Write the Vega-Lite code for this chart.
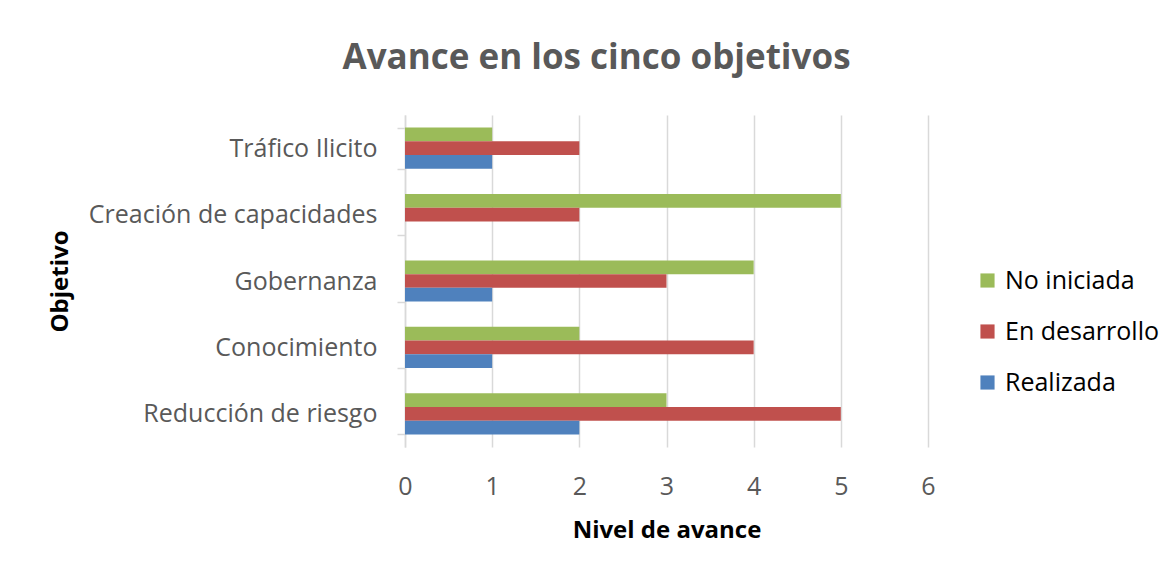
{
  "$schema": "https://vega.github.io/schema/vega-lite/v6.json",
  "autosize": {"type": "none"},
  "width": 523,
  "height": 332,
  "padding": {"left": 405, "top": 115, "right": 244, "bottom": 126},
  "background": "white",
  "config": {
    "font": "Open Sans",
    "view": {"stroke": null}
  },
  "title": {
    "text": "Avance en los cinco objetivos",
    "anchor": "middle",
    "frame": "group",
    "dx": -70,
    "offset": 27,
    "fontSize": 35,
    "fontWeight": "bold",
    "color": "#595959",
    "font": "Open Sans"
  },
  "data": {
    "values": [
      {"objetivo": "Tráfico Ilicito", "estado": "No iniciada", "valor": 1},
      {"objetivo": "Tráfico Ilicito", "estado": "En desarrollo", "valor": 2},
      {"objetivo": "Tráfico Ilicito", "estado": "Realizada", "valor": 1},
      {"objetivo": "Creación de capacidades", "estado": "No iniciada", "valor": 5},
      {"objetivo": "Creación de capacidades", "estado": "En desarrollo", "valor": 2},
      {"objetivo": "Creación de capacidades", "estado": "Realizada", "valor": 0},
      {"objetivo": "Gobernanza", "estado": "No iniciada", "valor": 4},
      {"objetivo": "Gobernanza", "estado": "En desarrollo", "valor": 3},
      {"objetivo": "Gobernanza", "estado": "Realizada", "valor": 1},
      {"objetivo": "Conocimiento", "estado": "No iniciada", "valor": 2},
      {"objetivo": "Conocimiento", "estado": "En desarrollo", "valor": 4},
      {"objetivo": "Conocimiento", "estado": "Realizada", "valor": 1},
      {"objetivo": "Reducción de riesgo", "estado": "No iniciada", "valor": 3},
      {"objetivo": "Reducción de riesgo", "estado": "En desarrollo", "valor": 5},
      {"objetivo": "Reducción de riesgo", "estado": "Realizada", "valor": 2}
    ]
  },
  "mark": {"type": "bar"},
  "encoding": {
    "y": {
      "field": "objetivo",
      "type": "nominal",
      "sort": ["Tráfico Ilicito", "Creación de capacidades", "Gobernanza", "Conocimiento", "Reducción de riesgo"],
      "scale": {"paddingInner": 0.38, "paddingOuter": 0.19},
      "axis": {
        "title": "Objetivo",
        "titleFontSize": 24,
        "titleFontWeight": "bold",
        "titleColor": "#000000",
        "titleX": -345,
        "titleY": 166,
        "titleAngle": -90,
        "titleAlign": "center",
        "titleBaseline": "middle",
        "labelFontSize": 25,
        "labelColor": "#595959",
        "labelPadding": 20,
        "labelLimit": 400,
        "tickBand": "extent",
        "tickSize": 8,
        "tickColor": "#d9d9d9",
        "tickWidth": 1.5,
        "domainColor": "#d9d9d9",
        "domainWidth": 1.5,
        "grid": false
      }
    },
    "yOffset": {
      "field": "estado",
      "type": "nominal",
      "sort": ["No iniciada", "En desarrollo", "Realizada"],
      "scale": {"paddingInner": 0, "paddingOuter": 0}
    },
    "x": {
      "field": "valor",
      "type": "quantitative",
      "scale": {"domain": [0, 6], "nice": false},
      "axis": {
        "title": "Nivel de avance",
        "titleFontSize": 24,
        "titleFontWeight": "bold",
        "titleColor": "#000000",
        "titlePadding": 19,
        "values": [0, 1, 2, 3, 4, 5, 6],
        "labelFontSize": 25,
        "labelColor": "#595959",
        "labelPadding": 27,
        "labelFlush": false,
        "ticks": false,
        "domain": false,
        "grid": true,
        "gridColor": "#d9d9d9",
        "gridWidth": 1.5
      }
    },
    "color": {
      "field": "estado",
      "type": "nominal",
      "scale": {
        "domain": ["No iniciada", "En desarrollo", "Realizada"],
        "range": ["#9BBB59", "#C0504D", "#4F81BD"]
      },
      "legend": {
        "title": null,
        "orient": "none",
        "legendX": 570,
        "legendY": 153,
        "symbolType": "square",
        "symbolSize": 200,
        "symbolStrokeWidth": 0,
        "labelFontSize": 25,
        "labelColor": "#000000",
        "labelOffset": 5,
        "rowPadding": 25
      }
    }
  }
}
